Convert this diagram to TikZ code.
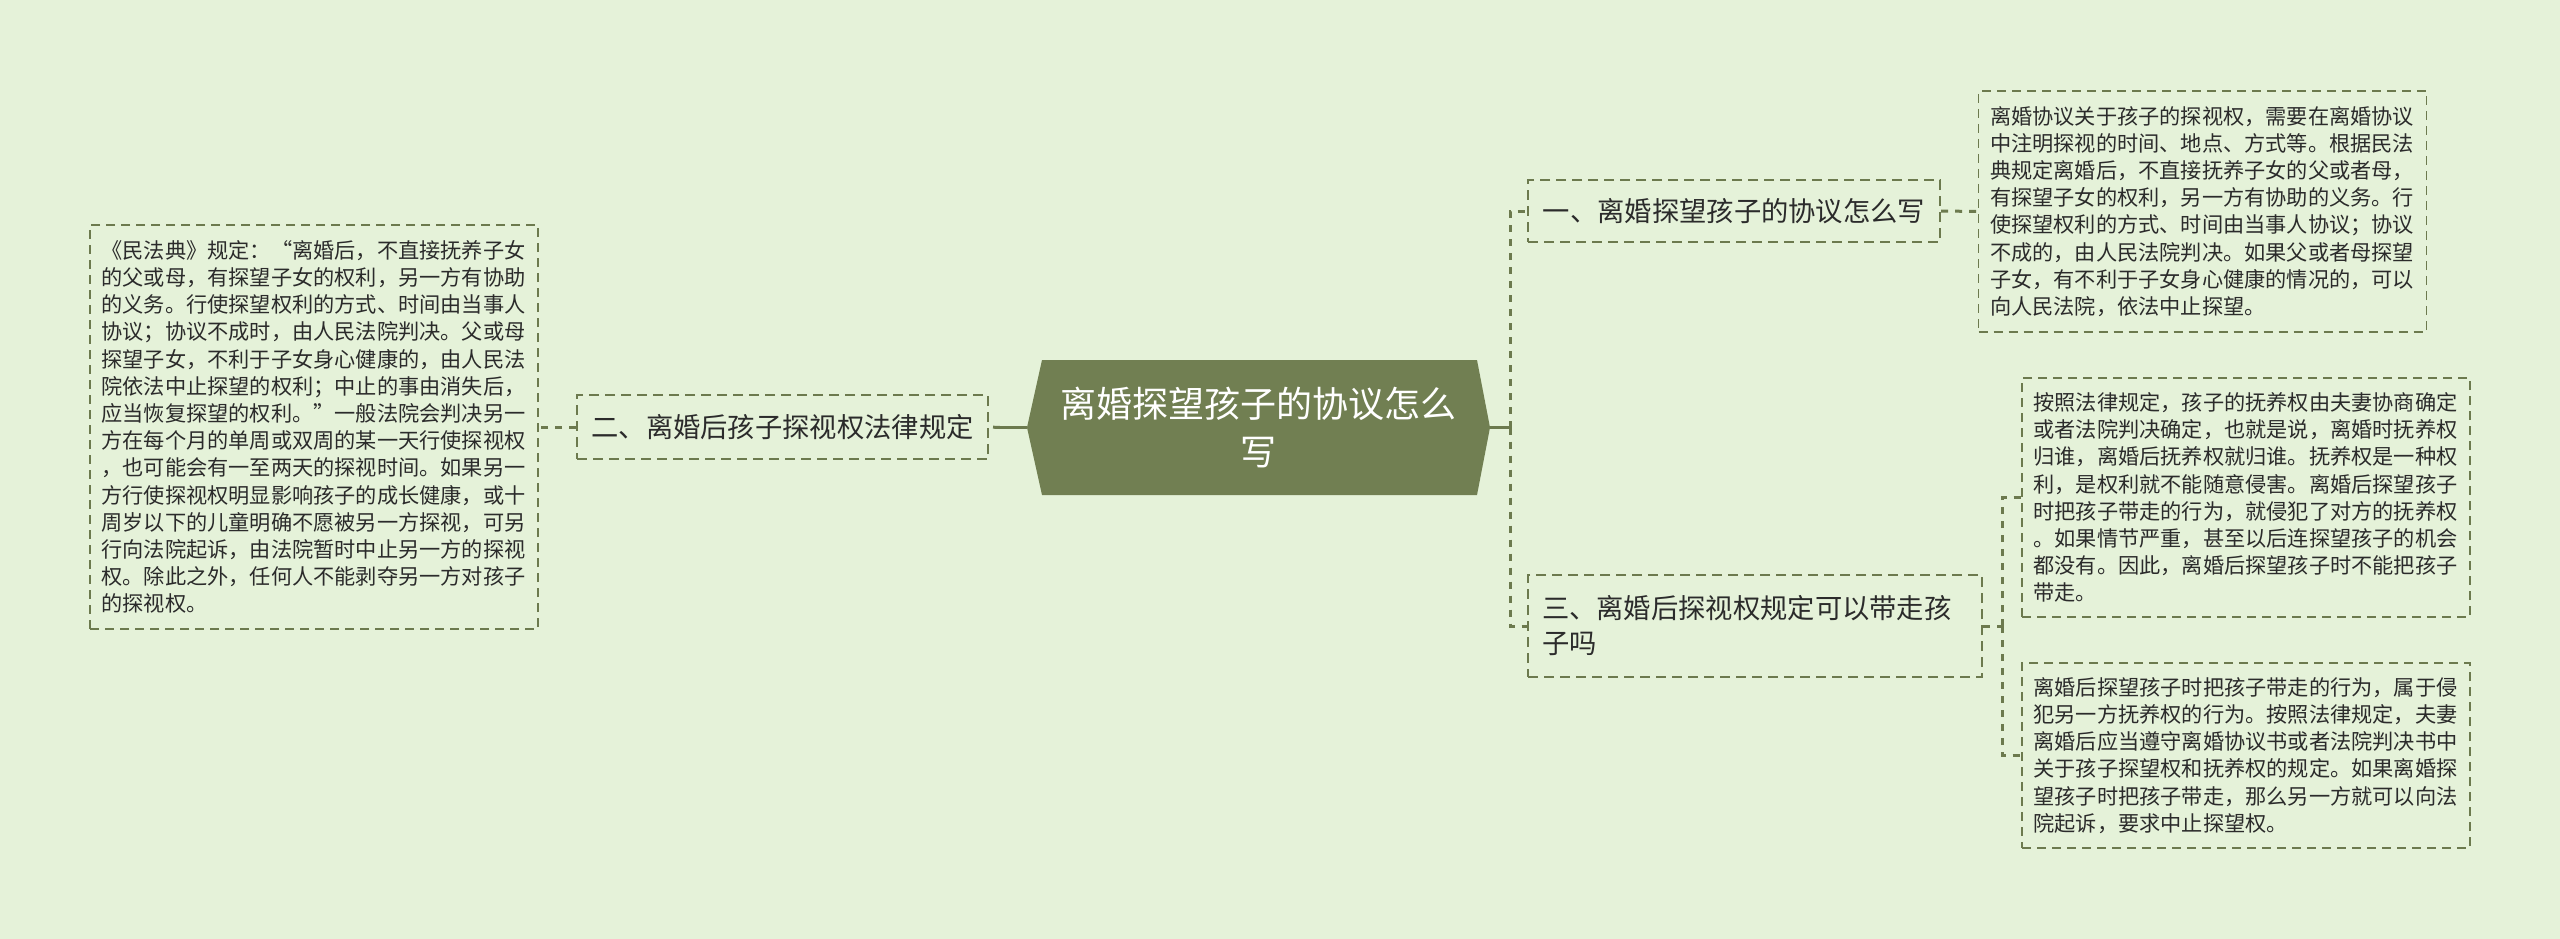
\documentclass[tikz,border=0pt]{standalone}
\usepackage{fontspec}
\setmainfont{Noto Sans CJK SC}
\definecolor{paper}{HTML}{E5F2D9}
\definecolor{olive}{HTML}{717F52}
\definecolor{dashline}{HTML}{6C7A4E}
\definecolor{ink}{HTML}{2B2B2B}

\tikzstyle{root} = [minimum width=463pt, minimum height=135pt, inner sep=0pt, fill=paper,
  text=white, align=center, font=\fontsize{36}{48}\selectfont,
  path picture={\fill[olive] (path picture bounding box.west)
    -- ([xshift=15pt]path picture bounding box.north west)
    -- ([xshift=-13pt]path picture bounding box.north east)
    -- (path picture bounding box.east)
    -- ([xshift=-13pt]path picture bounding box.south east)
    -- ([xshift=15pt]path picture bounding box.south west) -- cycle;}]
\tikzstyle{topic} = [draw=dashline, line width=2pt, dash pattern=on 10pt off 6pt, text=ink,
  font=\fontsize{27.3}{35}\selectfont, inner sep=0pt]
\tikzstyle{leaf} = [draw=dashline, line width=1.6pt, dash pattern=on 9pt off 6pt, text=ink,
  font=\fontsize{21.2}{27.2}\selectfont, text width=425pt, inner xsep=11.5pt, inner ysep=0pt, align=left]
\tikzstyle{stem} = [draw=dashline, line width=3pt]
\tikzstyle{link} = [stem, dash pattern=on 7pt off 7pt]

\begin{document}
\begin{tikzpicture}[x=1pt, y=-1pt]
  \useasboundingbox[fill=paper] (0,0) rectangle (2560,939);

  \node[root] (core) at (1258.5,427.5) {离婚探望孩子的协议怎么\\写};

  \node[topic, minimum width=411pt, minimum height=64pt] (visitlaw) at (782.5,427) {二、离婚后孩子探视权法律规定};
  \node[topic, minimum width=412pt, minimum height=62pt] (howto) at (1734,211) {一、离婚探望孩子的协议怎么写};
  \node[topic, text width=426pt, inner xsep=14pt, minimum height=102pt, align=left] (takeaway) at (1755,626)
    {三、离婚后探视权规定可以带走孩\\子吗};

  \node[leaf, minimum height=404pt] (codetext) at (314,427) {%
    《民法典》规定：“离婚后，不直接抚养子女\\
    的父或母，有探望子女的权利，另一方有协助\\
    的义务。行使探望权利的方式、时间由当事人\\
    协议；协议不成时，由人民法院判决。父或母\\
    探望子女，不利于子女身心健康的，由人民法\\
    院依法中止探望的权利；中止的事由消失后，\\
    应当恢复探望的权利。”一般法院会判决另一\\
    方在每个月的单周或双周的某一天行使探视权\\
    ，也可能会有一至两天的探视时间。如果另一\\
    方行使探视权明显影响孩子的成长健康，或十\\
    周岁以下的儿童明确不愿被另一方探视，可另\\
    行向法院起诉，由法院暂时中止另一方的探视\\
    权。除此之外，任何人不能剥夺另一方对孩子\\
    的探视权。};

  \node[leaf, minimum height=241pt] (agreement) at (2202.5,211.5) {%
    离婚协议关于孩子的探视权，需要在离婚协议\\
    中注明探视的时间、地点、方式等。根据民法\\
    典规定离婚后，不直接抚养子女的父或者母，\\
    有探望子女的权利，另一方有协助的义务。行\\
    使探望权利的方式、时间由当事人协议；协议\\
    不成的，由人民法院判决。如果父或者母探望\\
    子女，有不利于子女身心健康的情况的，可以\\
    向人民法院，依法中止探望。};

  \node[leaf, minimum height=239pt] (custody) at (2246,497.5) {%
    按照法律规定，孩子的抚养权由夫妻协商确定\\
    或者法院判决确定，也就是说，离婚时抚养权\\
    归谁，离婚后抚养权就归谁。抚养权是一种权\\
    利，是权利就不能随意侵害。离婚后探望孩子\\
    时把孩子带走的行为，就侵犯了对方的抚养权\\
    。如果情节严重，甚至以后连探望孩子的机会\\
    都没有。因此，离婚后探望孩子时不能把孩子\\
    带走。};

  \node[leaf, minimum height=185pt] (infringe) at (2246,755.5) {%
    离婚后探望孩子时把孩子带走的行为，属于侵\\
    犯另一方抚养权的行为。按照法律规定，夫妻\\
    离婚后应当遵守离婚协议书或者法院判决书中\\
    关于孩子探望权和抚养权的规定。如果离婚探\\
    望孩子时把孩子带走，那么另一方就可以向法\\
    院起诉，要求中止探望权。};

  \coordinate (rightjoin) at (1510,427.5);
  \coordinate (leftjoin) at (1000,427.5);
  \coordinate (takejoin) at (2002,626);

  \draw[stem] (core.east) -- (rightjoin);
  \draw[link] (rightjoin) |- (howto.west);
  \draw[link] (rightjoin) |- (takeaway.west);
  \draw[stem] (core.west) -- (leftjoin);
  \draw[link] (leftjoin) -- (visitlaw.east);
  \draw[link] (visitlaw.west) -- ++(-20,0) |- (codetext.east);
  \draw[link] (howto.east) -- (agreement.west);
  \draw[link] (takeaway.east) -- (takejoin);
  \draw[link] (takejoin) |- (custody.west);
  \draw[link] (takejoin) |- (infringe.west);
\end{tikzpicture}
\end{document}
